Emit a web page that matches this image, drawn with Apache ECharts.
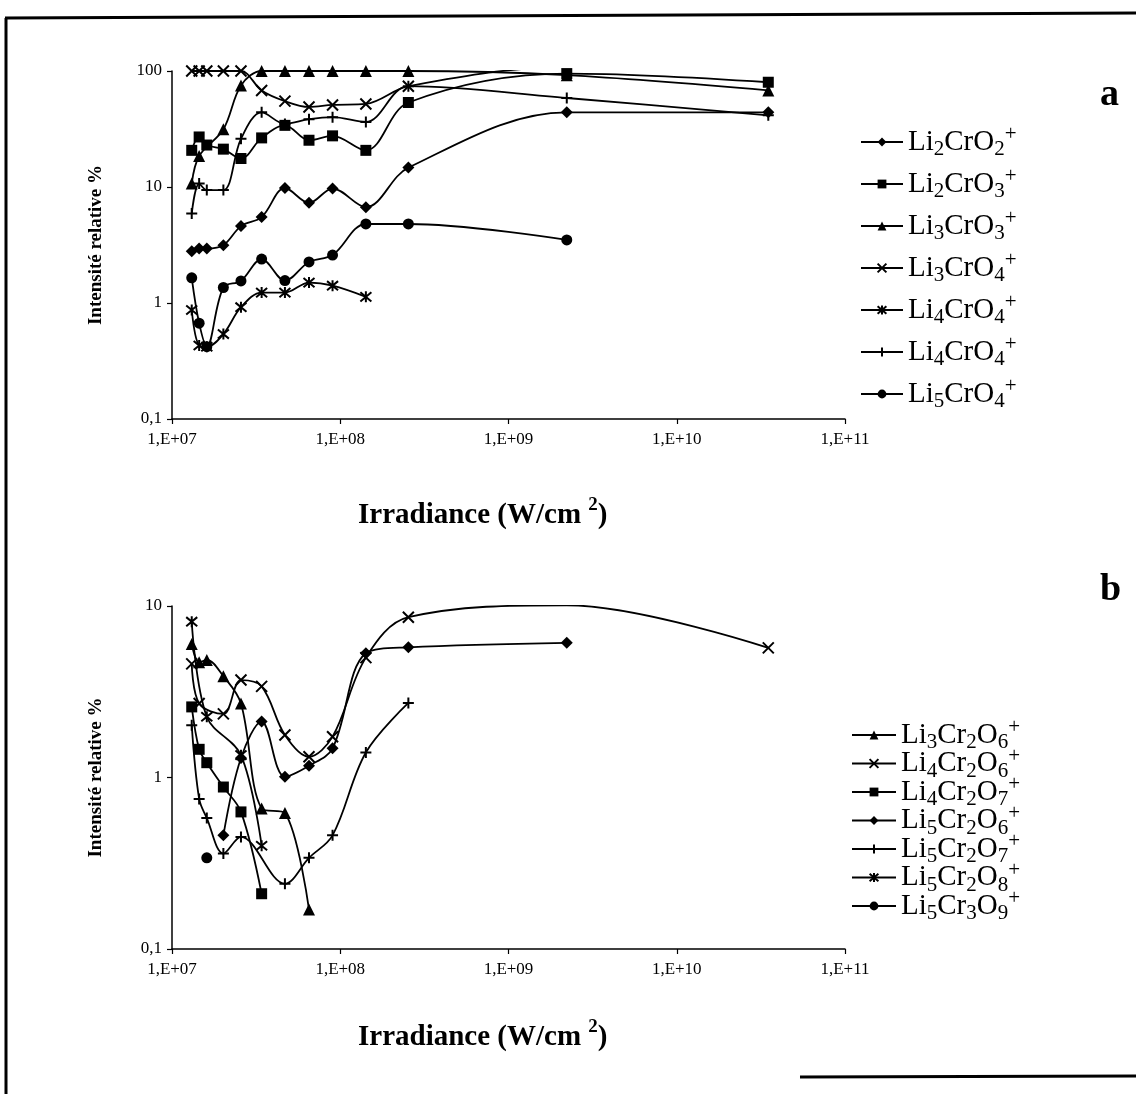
<!DOCTYPE html>
<html>
<head>
<meta charset="utf-8">
<script src="https://cdn.jsdelivr.net/npm/echarts@6/dist/echarts.min.js"></script>
<style>
html,body{margin:0;padding:0;background:#fff;}
#c{width:1136px;height:1094px;}
</style>
</head>
<body>
<div id="c"></div>
<script>
// Irradiance values (W/cm2) shared by all series
const irradiance = [1.31e7, 1.45e7, 1.61e7, 2.02e7, 2.57e7, 3.41e7, 4.69e7, 6.52e7, 9.0e7, 1.42e8, 2.54e8, 2.22e9, 3.5e10];
const xTickLabels = ['1,E+07', '1,E+08', '1,E+09', '1,E+10', '1,E+11'];
const yTickLabelsA = ['0,1', '1', '10', '100'];
const yTickLabelsB = ['0,1', '1', '10'];

// Chart a
const a_Li2CrO2 = [2.8, 2.95, 2.95, 3.15, 4.6, 5.5, 9.8, 7.3, 9.7, 6.7, 14.7, 44, 44];
const a_Li2CrO3 = [20.7, 27, 23, 21.2, 17.6, 26.5, 34, 25.3, 27.6, 20.7, 53.5, 95, 80];
const a_Li3CrO3 = [10.7, 18.5, null, 31.5, 75, 100, 100, 100, 100, 100, 100, 92, 68];
const a_Li3CrO4 = [100, 100, 100, 100, 100, 68, 55, 49, 51, 52, 74, 108, 107];
const a_Li4CrO4_star = [0.87, 0.43, 0.42, 0.54, 0.92, 1.23, 1.23, 1.5, 1.41, 1.13, null, null, null];
const a_Li4CrO4_plus = [5.9, 10.7, 9.4, 9.4, 26, 44, 35, 38.4, 40, 36.4, 74, 58.5, 41.5];
const a_Li5CrO4 = [1.65, 0.67, 0.42, 1.36, 1.55, 2.39, 1.56, 2.26, 2.59, 4.8, 4.8, 3.5, null];

// Chart b
const b_Li3Cr2O6 = [6.0, 4.7, 4.85, 3.9, 2.7, 0.66, 0.62, 0.17, null, null, null, null, null];
const b_Li4Cr2O6 = [4.6, 2.7, null, 2.35, 3.7, 3.4, 1.77, 1.32, 1.73, 5.0, 8.6, 10.1, 5.7];
const b_Li4Cr2O7 = [2.58, 1.46, 1.22, 0.88, 0.63, 0.21, null, null, null, null, null, null, null];
const b_Li5Cr2O6 = [null, null, null, 0.46, 1.3, 2.12, 1.01, 1.17, 1.48, 5.3, 5.74, 6.1, null];
const b_Li5Cr2O7 = [2.02, 0.75, 0.58, 0.36, 0.45, null, 0.24, 0.34, 0.46, 1.4, 2.72, null, null];
const b_Li5Cr2O8 = [8.1, null, 2.26, null, 1.35, 0.4, null, null, null, null, null, null, null];
const b_Li5Cr3O9 = [null, null, 0.34, null, null, null, null, null, null, null, null, null, null];

const SYM_X = 'path://M0,0L10,10M10,0L0,10';
const SYM_STAR = 'path://M0,0L10,10M10,0L0,10M5,-1L5,11';
const SYM_PLUS = 'path://M5,0L5,10M0,5L10,5';

const fontF = 'Liberation Serif';
const legendRich = {
  n: {fontFamily: fontF, fontSize: 29, color: '#000', lineHeight: 36, verticalAlign: 'middle'},
  b: {fontFamily: fontF, fontSize: 21, color: '#000', lineHeight: 18, verticalAlign: 'bottom'},
  p: {fontFamily: fontF, fontSize: 21, color: '#000', lineHeight: 16, verticalAlign: 'top'}
};

function formula(parts) {
  return parts.map(p => '{' + p[1] + '|' + p[0] + '}').join('');
}
const labelsA = {
  'Li2CrO2': formula([['Li','n'],['2','b'],['CrO','n'],['2','b'],['+','p']]),
  'Li2CrO3': formula([['Li','n'],['2','b'],['CrO','n'],['3','b'],['+','p']]),
  'Li3CrO3': formula([['Li','n'],['3','b'],['CrO','n'],['3','b'],['+','p']]),
  'Li3CrO4': formula([['Li','n'],['3','b'],['CrO','n'],['4','b'],['+','p']]),
  'Li4CrO4 (a)': formula([['Li','n'],['4','b'],['CrO','n'],['4','b'],['+','p']]),
  'Li4CrO4 (b)': formula([['Li','n'],['4','b'],['CrO','n'],['4','b'],['+','p']]),
  'Li5CrO4': formula([['Li','n'],['5','b'],['CrO','n'],['4','b'],['+','p']])
};
const labelsB = {
  'Li3Cr2O6': formula([['Li','n'],['3','b'],['Cr','n'],['2','b'],['O','n'],['6','b'],['+','p']]),
  'Li4Cr2O6': formula([['Li','n'],['4','b'],['Cr','n'],['2','b'],['O','n'],['6','b'],['+','p']]),
  'Li4Cr2O7': formula([['Li','n'],['4','b'],['Cr','n'],['2','b'],['O','n'],['7','b'],['+','p']]),
  'Li5Cr2O6': formula([['Li','n'],['5','b'],['Cr','n'],['2','b'],['O','n'],['6','b'],['+','p']]),
  'Li5Cr2O7': formula([['Li','n'],['5','b'],['Cr','n'],['2','b'],['O','n'],['7','b'],['+','p']]),
  'Li5Cr2O8': formula([['Li','n'],['5','b'],['Cr','n'],['2','b'],['O','n'],['8','b'],['+','p']]),
  'Li5Cr3O9': formula([['Li','n'],['5','b'],['Cr','n'],['3','b'],['O','n'],['9','b'],['+','p']])
};

function pairs(vals) {
  return irradiance.map((x, i) => vals[i] == null ? null : [x, vals[i]]).filter(d => d !== null);
}
function mkSeries(name, vals, symbol, size, stroked, gi) {
  return {
    name: name, type: 'line', xAxisIndex: gi, yAxisIndex: gi,
    data: pairs(vals), smooth: 0.35, symbol: symbol, symbolSize: size,
    showSymbol: true, animation: false,
    lineStyle: {color: '#000', width: 1.8},
    itemStyle: stroked ? {color: '#000', borderColor: '#000', borderWidth: 2} : {color: '#000', borderWidth: 0}
  };
}

function xAxis(gi) {
  return {
    type: 'log', logBase: 10, min: 1e7, max: 1e11, gridIndex: gi,
    axisLine: {lineStyle: {color: '#000', width: 1.5}},
    axisTick: {show: true, inside: false, length: 5, lineStyle: {color: '#000', width: 1.2}},
    axisLabel: {color: '#000', fontFamily: fontF, fontSize: 17, margin: 12,
      formatter: v => xTickLabels[Math.round(Math.log10(v)) - 7]},
    splitLine: {show: false}, minorTick: {show: false}
  };
}
function yAxis(gi, min, max, labels, name) {
  return {
    type: 'log', logBase: 10, min: min, max: max, gridIndex: gi,
    axisLine: {show: true, lineStyle: {color: '#000', width: 1.5}},
    axisTick: {show: true, inside: false, length: 5, lineStyle: {color: '#000', width: 1.2}},
    axisLabel: {color: '#000', fontFamily: fontF, fontSize: 17, margin: 10,
      formatter: v => labels[Math.round(Math.log10(v)) + 1]},
    splitLine: {show: false},
    name: name, nameLocation: 'middle', nameRotate: 90, nameGap: 66,
    nameTextStyle: {fontFamily: fontF, fontWeight: 'bold', fontSize: 19, color: '#000'}
  };
}

const xTitleRich = {
  t: {fontFamily: fontF, fontWeight: 'bold', fontSize: 29, fill: '#000', lineHeight: 40, verticalAlign: 'middle'},
  s: {fontFamily: fontF, fontWeight: 'bold', fontSize: 19, fill: '#000', lineHeight: 28, verticalAlign: 'top'}
};

const option = {
  backgroundColor: '#fff',
  animation: false,
  grid: [
    {left: 172, top: 71, width: 673, height: 348},
    {left: 172, top: 606, width: 673, height: 343}
  ],
  xAxis: [xAxis(0), xAxis(1)],
  yAxis: [yAxis(0, 0.1, 100, yTickLabelsA, 'Intensité relative %'), yAxis(1, 0.1, 10, yTickLabelsB, 'Intensité relative %')],
  legend: [
    {
      orient: 'vertical', left: 855, top: 119, itemWidth: 42, itemHeight: 11, itemGap: 6,
      data: Object.keys(labelsA),
      formatter: n => labelsA[n],
      textStyle: {rich: legendRich, fontFamily: fontF, fontSize: 29, color: '#000'},
      selectedMode: false
    },
    {
      orient: 'vertical', left: 846, top: 712, itemWidth: 44, itemHeight: 11, itemGap: -7.5,
      data: Object.keys(labelsB),
      formatter: n => labelsB[n],
      textStyle: {rich: legendRich, fontFamily: fontF, fontSize: 29, color: '#000'},
      selectedMode: false
    }
  ],
  series: [
    mkSeries('Li2CrO2', a_Li2CrO2, 'diamond', 12, false, 0),
    mkSeries('Li2CrO3', a_Li2CrO3, 'rect', 11, false, 0),
    mkSeries('Li3CrO3', a_Li3CrO3, 'triangle', 12, false, 0),
    mkSeries('Li3CrO4', a_Li3CrO4, SYM_X, 11, true, 0),
    mkSeries('Li4CrO4 (a)', a_Li4CrO4_star, SYM_STAR, 11, true, 0),
    mkSeries('Li4CrO4 (b)', a_Li4CrO4_plus, SYM_PLUS, 11, true, 0),
    mkSeries('Li5CrO4', a_Li5CrO4, 'circle', 11, false, 0),
    mkSeries('Li3Cr2O6', b_Li3Cr2O6, 'triangle', 12, false, 1),
    mkSeries('Li4Cr2O6', b_Li4Cr2O6, SYM_X, 11, true, 1),
    mkSeries('Li4Cr2O7', b_Li4Cr2O7, 'rect', 11, false, 1),
    mkSeries('Li5Cr2O6', b_Li5Cr2O6, 'diamond', 12, false, 1),
    mkSeries('Li5Cr2O7', b_Li5Cr2O7, SYM_PLUS, 11, true, 1),
    mkSeries('Li5Cr2O8', b_Li5Cr2O8, SYM_STAR, 11, true, 1),
    mkSeries('Li5Cr3O9', b_Li5Cr3O9, 'circle', 11, false, 1)
  ],
  graphic: [
    {type: 'line', shape: {x1: 6, y1: 18, x2: 6, y2: 1094}, style: {stroke: '#000', lineWidth: 3}, silent: true},
    {type: 'line', shape: {x1: 5, y1: 18, x2: 1136, y2: 13}, style: {stroke: '#000', lineWidth: 3}, silent: true},
    {type: 'line', shape: {x1: 800, y1: 1077, x2: 1136, y2: 1076}, style: {stroke: '#000', lineWidth: 3}, silent: true},
    {type: 'text', left: 1100, top: 76, style: {text: 'a', fontFamily: fontF, fontWeight: 'bold', fontSize: 38, fill: '#000'}},
    {type: 'text', left: 1100, top: 571, style: {text: 'b', fontFamily: fontF, fontWeight: 'bold', fontSize: 38, fill: '#000'}},
    {type: 'text', left: 358, top: 496, style: {text: '{t|Irradiance (W/cm }{s|2}{t|)}', rich: xTitleRich}},
    {type: 'text', left: 358, top: 1018, style: {text: '{t|Irradiance (W/cm }{s|2}{t|)}', rich: xTitleRich}}
  ]
};
const chart = echarts.init(document.getElementById('c'), null, {renderer: 'canvas'});
chart.setOption(option);
</script>
</body>
</html>
